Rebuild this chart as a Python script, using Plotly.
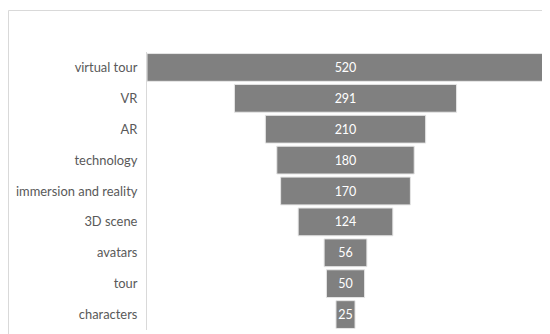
import plotly.graph_objects as go

categories = ["virtual tour", "VR", "AR", "technology", "immersion and reality",
              "3D scene", "avatars", "tour", "characters"]
values = [520, 291, 210, 180, 170, 124, 56, 50, 25]

W, H = 542, 326
ml, mr, mt, mb = 139, 6, 44, 4
pw, ph = W - ml - mr, H - mt - mb

fig = go.Figure(go.Funnel(
    y=categories,
    x=values,
    textinfo="value",
    textposition="inside",
    insidetextanchor="middle",
    textfont=dict(color="white", size=12.5, family="Lato"),
    marker=dict(color="#808080", line=dict(color="#e6e6e6", width=1)),
    connector=dict(visible=False),
    width=0.9,
))

fig.update_layout(
    width=W, height=H,
    margin=dict(l=ml, r=mr, t=mt, b=mb),
    paper_bgcolor="white", plot_bgcolor="white",
    showlegend=False,
    uniformtext=dict(minsize=12.5, mode="show"),
    font=dict(family="Lato", size=12, color="#595959"),
    xaxis=dict(visible=False, range=[-260, 260]),
    yaxis=dict(showline=True, linecolor="#d9d9d9", linewidth=1, ticks="",
               showgrid=False, ticklabelstandoff=6,
               tickfont=dict(size=12.9, color="#595959", family="Lato")),
    shapes=[dict(type="rect", xref="paper", yref="paper",
                 x0=(0.5 - ml) / pw, x1=(W + 5 - ml) / pw,
                 y0=-(H + 5 - (mt + ph)) / ph, y1=1 + (mt - 2.5) / ph,
                 line=dict(color="#d9d9d9", width=1), layer="below")],
)

fig.write_html("out.html")
